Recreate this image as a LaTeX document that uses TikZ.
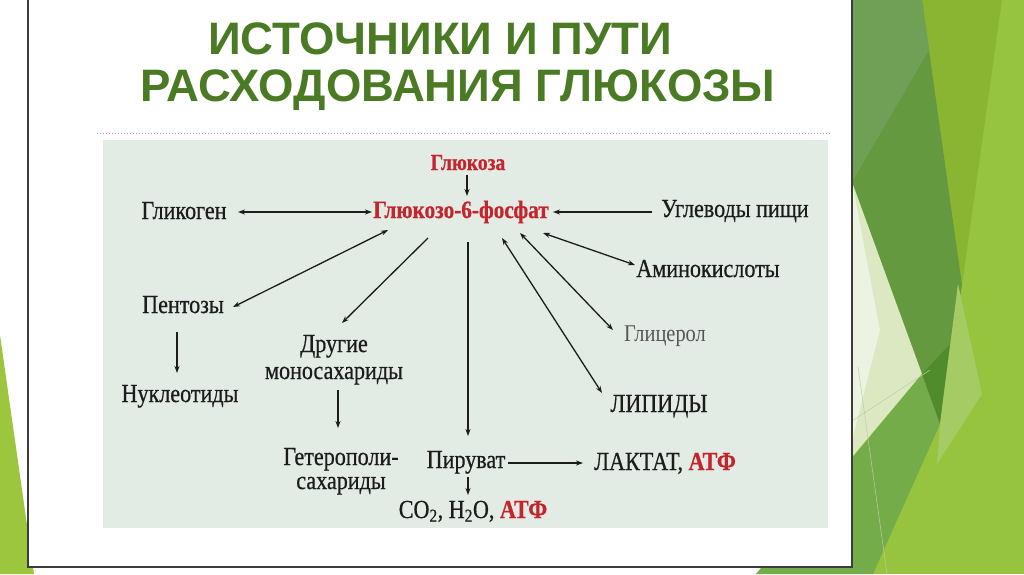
\documentclass[tikz,border=0pt]{standalone}
\usepackage{fontspec}
\newfontfamily\tfont{Liberation Sans}
\newfontfamily\dfont[FakeStretch=0.85,FakeBold=0.6]{Liberation Serif}
\newfontfamily\dlight[FakeStretch=0.85]{Liberation Serif}
\usetikzlibrary{calc,arrows.meta}
\definecolor{titlegreen}{RGB}{74,122,36}
\definecolor{ink}{RGB}{28,28,28}
\definecolor{hotred}{RGB}{196,36,44}
\definecolor{grayink}{RGB}{85,85,85}
\definecolor{panelc}{RGB}{226,236,229}
\definecolor{framec}{RGB}{60,60,60}
\definecolor{dgA}{RGB}{111,160,85}
\definecolor{dgB}{RGB}{101,153,63}
\definecolor{ygBand}{RGB}{138,181,50}
\definecolor{ygBase}{RGB}{150,196,62}
\definecolor{palec}{RGB}{219,232,194}
\definecolor{paleW}{RGB}{236,243,226}
\definecolor{midg}{RGB}{115,172,72}
\definecolor{darkest}{RGB}{80,139,44}
\definecolor{lband}{RGB}{165,204,100}
\definecolor{ltri}{RGB}{155,198,62}
\definecolor{thinl}{RGB}{190,205,170}
\begin{document}
\begin{tikzpicture}[x=1pt,y=-1pt,
  ttl/.style={anchor=base, inner sep=0pt, text=titlegreen, font=\tfont\bfseries\fontsize{45.5}{46}\selectfont},
  lbl/.style={anchor=base, inner sep=0pt, text=ink, font=\dfont\fontsize{26}{27}\selectfont},
  hot/.style={anchor=base, inner sep=0pt, text=hotred, font=\dfont\bfseries\fontsize{25}{26}\selectfont},
  conn/.style={draw=ink, line width=1.3pt, -{Stealth[length=7pt,width=5pt]}},
  bidir/.style={draw=ink, line width=1.3pt, {Stealth[length=7pt,width=5pt]}-{Stealth[length=7pt,width=5pt]}},
]
\useasboundingbox (0,0) rectangle (1024,574);
% background and decoration
\fill[white] (0,0) rectangle (1024,574);
\fill[ygBase] (840,0) rectangle (1024,574);
\fill[ygBand] (922,0) -- (1002,0) -- (962,285) -- cycle;
\fill[dgB] (840,0) -- (922,0) -- (962,285) -- (940,424) -- (852,182) -- (840,182) -- cycle;
\fill[dgA] (840,0) -- (922,0) -- (929,50) -- (852,182) -- (840,182) -- cycle;
\fill[palec] (852,182) -- (922,374) -- (852,457) -- cycle;
\fill[paleW] (852,182) -- (880,330) -- (852,440) -- cycle;
\fill[midg] (756,574) -- (922,374) -- (950,344) -- (940,424) -- (873,574) -- cycle;
\fill[darkest] (922,374) -- (950,344) -- (940,424) -- cycle;
\fill[lband] (958,284) -- (982,394) -- (937,464) -- (940,424) -- cycle;
\draw[thinl, line width=0.5pt] (852,421) -- (930,370);
\draw[thinl, line width=0.5pt] (858,367) -- (887,574);
\fill[ltri] (0,335) -- (0,574) -- (34,574) -- cycle;
% slide frame
\draw[fill=white, draw=framec, line width=1.2pt] (28,-5) rectangle (852,567);
% panel
\fill[panelc] (103,140) rectangle (828,528);
\draw[dotted, gray!70, line width=1pt] (97,133) -- (830,133);
% title
\node[ttl] (t1) at (440,54) {ИСТОЧНИКИ И ПУТИ};
\node[ttl] (t2) at (458,101) {РАСХОДОВАНИЯ ГЛЮКОЗЫ};
% diagram nodes
\node[hot, font=\dfont\bfseries\fontsize{23}{24}\selectfont] (glu) at (468,170) {Глюкоза};
\node[hot] (g6f) at (461,218) {Глюкозо-6-фосфат};
\node[lbl] (gly) at (184,219) {Гликоген};
\node[lbl] (ugl) at (735,217) {Углеводы пищи};
\node[lbl] (amino) at (708,277) {Аминокислоты};
\node[lbl, text=grayink, font=\dlight\fontsize{24}{25}\selectfont] (glyc) at (665,341) {Глицерол};
\node[lbl] (lip) at (659,412) {ЛИПИДЫ};
\node[lbl] (pent) at (183,313) {Пентозы};
\node[lbl] (nucl) at (180,402) {Нуклеотиды};
\node[lbl] (drug) at (334,352) {\begin{tabular}[t]{@{}c@{}}Другие\\моносахариды\end{tabular}};
\node[lbl] (het) at (341,465) {\begin{tabular}[t]{@{}c@{}}Гетерополи-\\[-3pt]сахариды\end{tabular}};
\node[lbl] (pyr) at (466,468) {Пируват};
\node[lbl] (co2) at (473,518) {CO\textsubscript{2}, H\textsubscript{2}O, {\bfseries\color{hotred}АТФ}};
\node[lbl] (lakt) at (665,470) {ЛАКТАТ, {\bfseries\color{hotred}АТФ}};
% connectors
\draw[conn] ($(glu.base)+(-1,5)$) -- ($(g6f.base)+(6,-22)$);
\draw[bidir] ($(gly.base)+(54,-7)$) -- ($(g6f.base)+(-89,-6)$);
\draw[bidir] ($(g6f.base)+(-73,12)$) -- ($(pent.base)+(50,-6)$);
\draw[conn] ($(g6f.base)+(-33,20)$) -- ($(drug.base)+(8,-29)$);
\draw[conn] ($(g6f.base)+(7,24)$) -- ($(pyr.base)+(2,-32)$);
\draw[conn] ($(ugl.base)+(-83,-5)$) -- ($(g6f.base)+(92,-6)$);
\draw[bidir] ($(g6f.base)+(82,15)$) -- ($(amino.base)+(-73,-12)$);
\draw[bidir] ($(g6f.base)+(59,15)$) -- ($(glyc.base)+(-52,-11)$);
\draw[bidir] ($(g6f.base)+(41,20)$) -- ($(lip.base)+(-57,-19)$);
\draw[conn] ($(pent.base)+(-6,19)$) -- ($(nucl.base)+(-3,-29)$);
\draw[conn] ($(drug.base)+(4,38)$) -- ($(het.base)+(-3,-37)$);
\draw[conn] ($(pyr.base)+(42,-5)$) -- ($(lakt.base)+(-82,-7)$);
\draw[conn] ($(pyr.base)+(2,9)$) -- ($(co2.base)+(-5,-23)$);
\end{tikzpicture}
\end{document}
